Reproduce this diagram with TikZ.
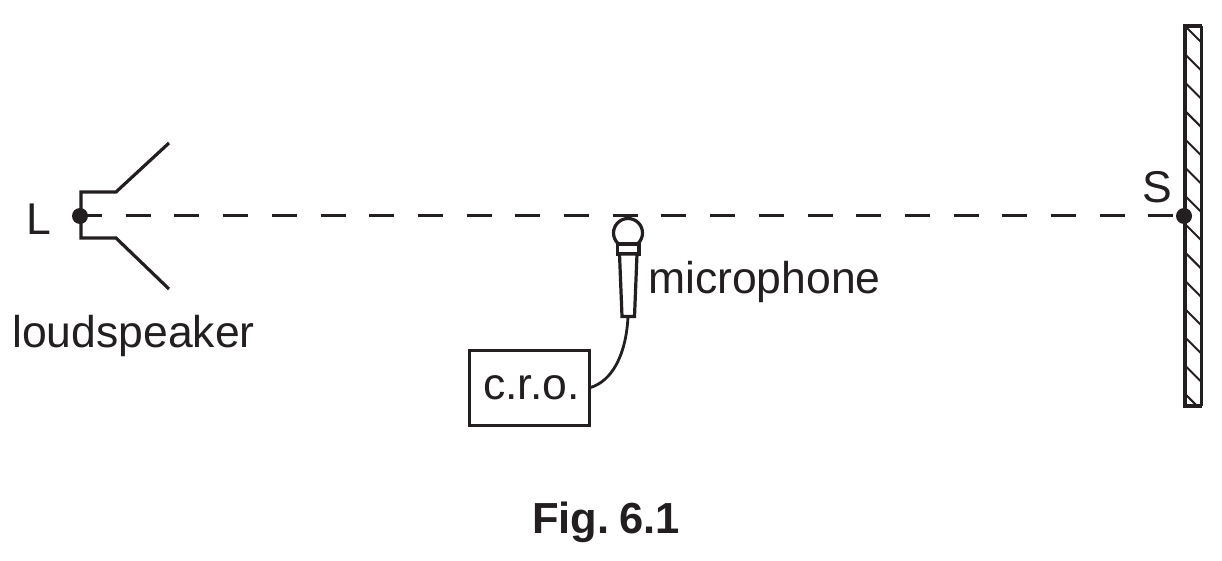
\documentclass[tikz,border=0pt]{standalone}
\usepackage{fontspec}
\setmainfont{Liberation Sans}
\definecolor{ink}{HTML}{231F20}
\tikzset{
  line/.style={draw=ink,line width=3.2pt,line join=miter},
  thin line/.style={draw=ink,line width=2.8pt},
  hatch/.style={draw=ink,line width=2pt},
  label/.style={text=ink,inner sep=0pt,font=\fontsize{44.5}{50}\selectfont},
  dot/.style={circle,fill=ink,inner sep=0pt,minimum size=16pt},
  axisline/.style={draw=ink,line width=3pt,dash pattern=on 25pt off 23.7pt,dash phase=3pt},
}
\begin{document}
\begin{tikzpicture}[x=1pt,y=-1pt]
\useasboundingbox (0,0) rectangle (1222,561);
% wall
\coordinate (wallTL) at (1185,26);
\coordinate (wallBR) at (1201.5,406);
\begin{scope}
  \clip (wallTL) rectangle (wallBR);
  \foreach \k in {0,...,14}{
    \draw[hatch] (1185,{26+\k*28.3}) -- ++(18,18);
  }
\end{scope}
\draw[draw=ink,line width=2.6pt] (wallBR) -- (1201.5,26);
\draw[draw=ink,line width=3.6pt] (1201.5,26) -- (wallTL) -- (1185,406) -- (wallBR);
% axis
\node[dot] (L) at (80,216) {};
\node[dot] (S) at (1184,216) {};
\draw[axisline] (L.center) -- (S.center);
% loudspeaker horn
\coordinate (hornA) at (169,143);
\coordinate (hornB) at (116,192);
\coordinate (hornC) at (81,192);
\coordinate (hornD) at (81,238);
\coordinate (hornE) at (116,238);
\coordinate (hornF) at (169,289);
\draw[line] (hornA) -- (hornB) -- (hornC) -- (hornD) -- (hornE) -- (hornF);
% microphone
\node[circle,draw=ink,line width=3.2pt,fill=white,inner sep=0pt,minimum size=29pt] (ball) at (628,233) {};
\draw[line,fill=white] (617.5,244) rectangle (639,254);
\draw[line,fill=white] (619.5,254) -- (637,254) -- (634.5,316.5) -- (622,316.5) -- cycle;
\coordinate (micEnd) at (628,317);
% c.r.o.
\node[draw=ink,line width=3pt,minimum width=120pt,minimum height=75pt,inner sep=0pt,label,anchor=center] (cro) at (529,387.5) {\hspace{5pt}c.r.o.};
\draw[thin line] (micEnd) .. controls (626,355) and (612,381) .. (cro.east);
% labels
\node[label,anchor=base] (tL) at (38.5,235) {L};
\node[label,anchor=base] (tS) at (1157,203) {S};
\node[label,anchor=base west] (tMic) at (648,293.5) {microphone};
\node[label,anchor=base west] (tLoud) at (12,347) {loudspeaker};
\node[text=ink,inner sep=0pt,anchor=base,font=\fontsize{43.5}{52}\selectfont\bfseries] (fig) at (606,533) {Fig.\hspace{10pt}6.1};
\end{tikzpicture}
\end{document}
